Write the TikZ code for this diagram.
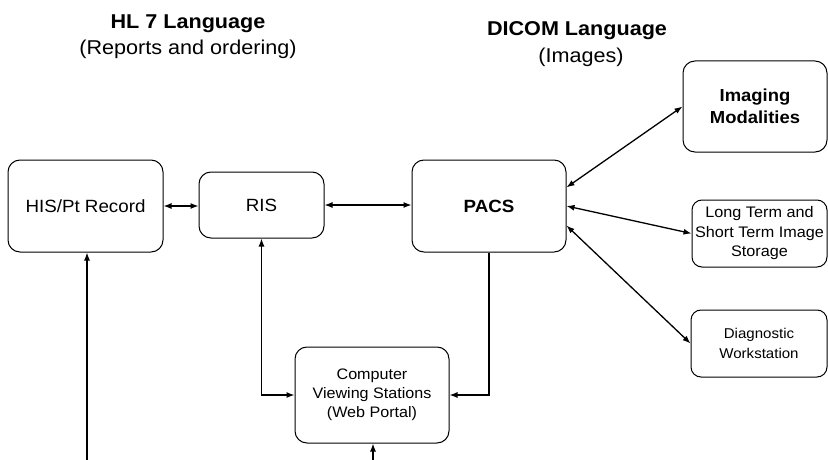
\documentclass[tikz,border=0pt]{standalone}
\usepackage{fontspec}
\setmainfont{Liberation Sans}[FakeStretch=1.06]
\newfontfamily\titlefont{Liberation Sans}[FakeStretch=1.08]
\usetikzlibrary{arrows.meta,calc}
\begin{document}
\begin{tikzpicture}[x=1pt,y=-1pt,
  box/.style={draw=black,line width=1pt,rounded corners=12pt,inner sep=0pt,align=center,anchor=center},
  sbox/.style={box,rounded corners=10pt},
  conn/.style={line width=1.3pt,-{Latex[length=8pt,width=6pt]}},
  bconn/.style={line width=1.3pt,{Latex[length=8pt,width=6pt]}-{Latex[length=8pt,width=6pt]}},
  ttl/.style={font=\titlefont\fontsize{20}{23}\selectfont\bfseries,anchor=base},
  sub/.style={font=\titlefont\fontsize{20}{23}\selectfont,anchor=base}
]
\useasboundingbox (0,0) rectangle (828,460);
\fill[white] (0,0) rectangle (828,460);

% titles
\node[ttl] (t1) at (188,29) {HL 7 Language};
\node[sub] (s1) at (188,55) {(Reports and ordering)};
\node[ttl] (t2) at (577,36) {DICOM Language};
\node[sub] (s2) at (581,63) {(Images)};

% boxes
\node[box,minimum width=155pt,minimum height=92pt,font=\fontsize{17.7}{21}\selectfont] (his) at (85.5,206) {HIS/Pt Record};
\node[box,minimum width=125pt,minimum height=66pt,font=\fontsize{17.7}{21}\selectfont] (ris) at (261.5,205) {RIS};
\node[box,minimum width=154pt,minimum height=92pt,font=\fontsize{17.7}{21}\selectfont\bfseries] (pacs) at (489,206) {PACS};
\node[box,minimum width=144pt,minimum height=91pt,font=\fontsize{17.4}{21.7}\selectfont\bfseries] (img) at (755,106.5) {Imaging\\Modalities};
\node[sbox,minimum width=135pt,minimum height=67pt,font=\fontsize{15.3}{19.5}\selectfont] (lts) at (759.5,233.5) {Long Term and\\Short Term Image\\Storage};
\node[sbox,minimum width=136pt,minimum height=67pt,font=\fontsize{14.2}{20}\selectfont] (dws) at (759,343.5) {Diagnostic\\Workstation};
\node[box,minimum width=154pt,minimum height=96pt,font=\fontsize{15.2}{19}\selectfont] (cvs) at (372,395) {Computer\\Viewing Stations\\(Web Portal)};

% free ends
\coordinate (hb) at (87,460);
\coordinate (cb) at (373,460);

% connectors
\draw[bconn] (his.east) -- (his.east -| ris.west);
\draw[bconn] (ris.east) -- (ris.east -| pacs.west);
\draw[conn] (hb) -- (hb |- his.south);
\draw[conn] (cb) -- (cb |- cvs.south);
\draw[bconn] (ris.south) -- (ris.south |- cvs.west) -- (cvs.west);
\draw[conn] (pacs.south) -- (pacs.south |- cvs.east) -- (cvs.east);
\draw[bconn] ($(pacs.north east)!0.3!(pacs.south east)$) -- (img.west);
\draw[bconn] (pacs.east) -- (lts.west);
\draw[bconn] ($(pacs.north east)!0.71!(pacs.south east)$) -- (dws.west);
\end{tikzpicture}
\end{document}
